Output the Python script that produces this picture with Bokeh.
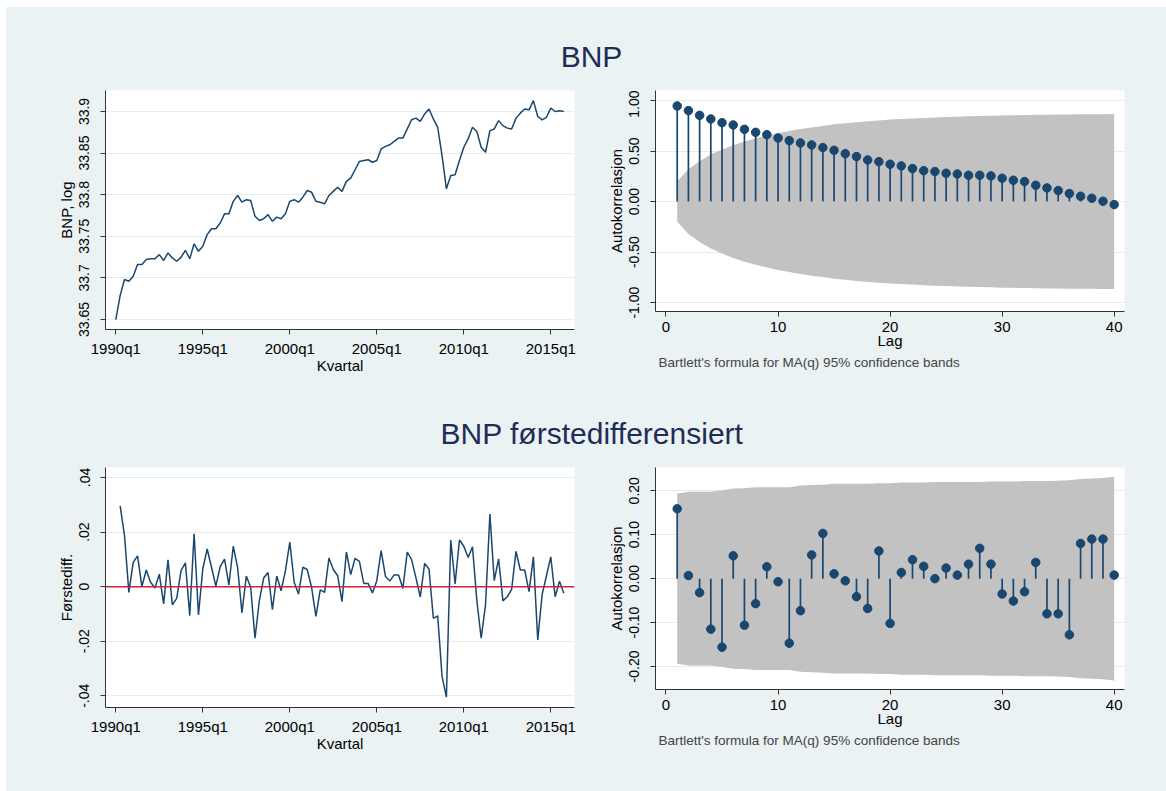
import math
from bokeh.plotting import figure
from bokeh.models import Range1d, FixedTicker, ColumnDataSource, Title, Span
from bokeh.layouts import column, row
from bokeh.embed import file_html
from bokeh.resources import INLINE
from bokeh.core.properties import value

# ---------------- data ----------------
x_tick_pos = [0, 20, 40, 60, 80, 100]
x_tick_labels = ["1990q1", "1995q1", "2000q1", "2005q1", "2010q1", "2015q1"]

bnp_log = [
    33.650, 33.679, 33.698, 33.696, 33.702, 33.716, 33.716, 33.722,
    33.723, 33.723, 33.728, 33.721, 33.730, 33.724, 33.720, 33.725,
    33.733, 33.723, 33.741, 33.732, 33.738, 33.752, 33.759, 33.759,
    33.766, 33.777, 33.777, 33.792, 33.799, 33.791, 33.794, 33.793,
    33.774, 33.769, 33.771, 33.776, 33.768, 33.773, 33.771, 33.777,
    33.792, 33.794, 33.791, 33.797, 33.805, 33.803, 33.792, 33.791,
    33.789, 33.799, 33.804, 33.809, 33.804, 33.816, 33.820, 33.830,
    33.840, 33.841, 33.842, 33.839, 33.841, 33.855, 33.858, 33.860,
    33.864, 33.868, 33.868, 33.879, 33.890, 33.892, 33.888, 33.897,
    33.903, 33.891, 33.881, 33.847, 33.807, 33.823, 33.824, 33.841,
    33.857, 33.867, 33.881, 33.876, 33.857, 33.851, 33.877, 33.879,
    33.889, 33.883, 33.880, 33.879, 33.892, 33.898, 33.903, 33.902,
    33.913, 33.894, 33.890, 33.893, 33.904, 33.900, 33.901, 33.900,
]

bnp_diff = [
    0.0296, 0.0187, -0.0021, 0.0089, 0.0113, 0.0000, 0.0061,
    0.0016, -0.0005, 0.0046, -0.0063, 0.0098, -0.0067, -0.0043, 0.0059,
    0.0087, -0.0106, 0.0194, -0.0104, 0.0065, 0.0138, 0.0071, 0.0002,
    0.0073, 0.0101, 0.0006, 0.0148, 0.0071, -0.0096, 0.0039, -0.0002,
    -0.0189, -0.0051, 0.0032, 0.0052, -0.0084, 0.0039, -0.0015, 0.0059,
    0.0163, 0.0016, -0.0027, 0.0071, 0.0063, -0.0002, -0.0109, -0.0012,
    -0.0021, 0.0105, 0.0063, 0.0040, -0.0055, 0.0127, 0.0044, 0.0104,
    0.0093, 0.0012, 0.0012, -0.0023, 0.0022, 0.0132, 0.0037, 0.0021,
    0.0043, 0.0043, -0.0006, 0.0127, 0.0099, 0.0032, -0.0038, 0.0085,
    0.0065, -0.0116, -0.0107, -0.0329, -0.0405, 0.0171, 0.0010, 0.0171,
    0.0148, 0.0107, 0.0146, -0.0051, -0.0189, -0.0066, 0.0266, 0.0022,
    0.0102, -0.0052, -0.0037, -0.0010, 0.0129, 0.0061, 0.0061, -0.0018,
    0.0109, -0.0195, -0.0030, 0.0040, 0.0109, -0.0037, 0.0020, -0.0024,
]

lags = list(range(1, 41))
lag_ticks = [0, 10, 20, 30, 40]

acf_bnp = [
    0.946, 0.900, 0.853, 0.817, 0.781, 0.758, 0.715, 0.685, 0.662, 0.629,
    0.603, 0.580, 0.560, 0.534, 0.507, 0.474, 0.445, 0.412, 0.395, 0.369,
    0.353, 0.326, 0.306, 0.297, 0.280, 0.273, 0.260, 0.260, 0.254, 0.231,
    0.211, 0.198, 0.161, 0.135, 0.109, 0.079, 0.053, 0.033, 0.003, -0.030,
]
band_bnp = [
    0.200, 0.320, 0.400, 0.465, 0.515, 0.558, 0.595, 0.625, 0.653, 0.677,
    0.698, 0.717, 0.733, 0.747, 0.764, 0.775, 0.786, 0.795, 0.803, 0.811,
    0.816, 0.822, 0.827, 0.832, 0.836, 0.840, 0.843, 0.846, 0.849, 0.852,
    0.854, 0.856, 0.858, 0.860, 0.861, 0.862, 0.863, 0.864, 0.865, 0.866,
]

acf_diff = [
    0.159, 0.007, -0.032, -0.115, -0.156, 0.052, -0.106, -0.057, 0.027, -0.007,
    -0.147, -0.073, 0.054, 0.103, 0.011, -0.005, -0.041, -0.068, 0.063, -0.102,
    0.014, 0.043, 0.028, 0.000, 0.024, 0.008, 0.033, 0.069, 0.033, -0.035,
    -0.051, -0.030, 0.037, -0.080, -0.080, -0.128, 0.080, 0.090, 0.090, 0.008,
]
band_diff = [
    0.194, 0.198, 0.198, 0.198, 0.201, 0.205, 0.206, 0.208, 0.208, 0.208,
    0.208, 0.212, 0.213, 0.214, 0.216, 0.216, 0.216, 0.216, 0.217, 0.217,
    0.219, 0.219, 0.219, 0.220, 0.220, 0.220, 0.220, 0.220, 0.221, 0.221,
    0.221, 0.222, 0.222, 0.222, 0.223, 0.224, 0.227, 0.228, 0.229, 0.232,
]

# ---------------- style ----------------
BG = "#EAF2F3"
NAVY = "#1A476F"
GRID = "#E4ECEE"
BAND = "#C2C2C2"
RED = "#C8243C"
TITLE_C = "#1F2D56"
FONT = "Liberation Sans"


def style(p, xlabel, ylabel, yticks, ylabels, xticks, xlabels):
    p.xaxis.ticker = FixedTicker(ticks=xticks)
    p.xaxis.major_label_overrides = {t: l for t, l in zip(xticks, xlabels)}
    p.yaxis.ticker = FixedTicker(ticks=yticks)
    p.yaxis.major_label_overrides = {t: l for t, l in zip(yticks, ylabels)}
    p.ygrid.ticker = FixedTicker(ticks=yticks)
    p.ygrid.grid_line_color = GRID
    p.ygrid.grid_line_width = 1
    p.xgrid.visible = False
    for ax in (p.xaxis, p.yaxis):
        ax.axis_line_color = "#333333"
        ax.major_tick_line_color = "#333333"
        ax.major_tick_out = 5
        ax.major_tick_in = 0
        ax.minor_tick_out = 0
        ax.minor_tick_in = 0
        ax.major_label_text_font = FONT
        ax.axis_label_text_font = FONT
        ax.axis_label_text_font_style = "normal"
        ax.axis_label_text_font_size = "15px"
        ax.axis_label_text_color = "black"
        ax.major_label_text_color = "black"
    p.xaxis.axis_label = xlabel
    p.yaxis.axis_label = ylabel
    p.xaxis.major_label_text_font_size = "15px"
    p.yaxis.major_label_text_font_size = "14px"
    p.yaxis.major_label_orientation = "vertical"
    p.yaxis.major_label_standoff = 11
    p.yaxis.axis_label_standoff = 2
    p.xaxis.major_label_standoff = 5
    p.xaxis.axis_label_standoff = -3


def panel(w, h, xr, yr, bl, br, bb):
    p = figure(width=w, height=h, x_range=Range1d(*xr), y_range=Range1d(*yr),
               output_backend="svg", toolbar_location=None, title=None,
               min_border_left=bl, min_border_right=br, min_border_top=0,
               min_border_bottom=bb, background_fill_color="white",
               border_fill_color=BG, outline_line_color=None)
    if "frame_align" in p.properties():
        p.frame_align = False
    return p


def title_fig(w, h, txt, tx, ty):
    p = figure(width=w, height=h, x_range=Range1d(0, w), y_range=Range1d(0, h),
               output_backend="svg", toolbar_location=None, title=None,
               min_border=0, background_fill_color=BG, border_fill_color=BG,
               outline_line_color=None)
    p.axis.visible = False
    p.grid.visible = False
    src = ColumnDataSource(dict(x=[tx], y=[ty], t=[txt]))
    p.text(x="x", y="y", text="t", source=src, text_align="center",
           text_baseline="middle", text_font=value(FONT),
           text_font_size="30px", text_color=TITLE_C)
    return p


note_txt = "Bartlett's formula for MA(q) 95% confidence bands"

LW, RW = 584, 576
TOP_H, ROW1_H, MID_H, ROW2_H = 83, 300, 77, 324

# ---- panel 1: BNP log ----
q_idx = list(range(len(bnp_log)))
p1 = panel(LW, ROW1_H, (-2.37, 105.45), (33.638, 33.9252), 99, 16, 61)
p1.line(q_idx, bnp_log, line_color=NAVY, line_width=1.5)
style(p1, "Kvartal", "BNP, log",
      [33.65, 33.7, 33.75, 33.8, 33.85, 33.9],
      ["33.65", "33.7", "33.75", "33.8", "33.85", "33.9"],
      x_tick_pos, x_tick_labels)

# ---- panel 2: ACF BNP ----
p2 = panel(RW, ROW1_H, (-0.937, 40.92), (-1.088, 1.099), 65, 42, 79)
p2.varea(x=lags, y1=[-b for b in band_bnp], y2=band_bnp, fill_color=BAND)
p2.segment(x0=lags, y0=[0] * len(lags), x1=lags, y1=acf_bnp,
           line_color=NAVY, line_width=1.7)
p2.scatter(lags, acf_bnp, size=8.5, fill_color=NAVY, line_color=NAVY)
style(p2, "Lag", "Autokorrelasjon", [-1, -0.5, 0, 0.5, 1],
      ["-1.00", "-0.50", "0.00", "0.50", "1.00"], lag_ticks,
      [str(t) for t in lag_ticks])
p2.add_layout(Title(text=note_txt, align="left", text_font=FONT,
                    text_font_size="13.5px", text_font_style="normal",
                    offset=3, standoff=2), "below")

# ---- panel 3: first difference ----
d_idx = list(range(1, len(bnp_diff) + 1))
p3 = panel(LW, ROW2_H, (-2.37, 105.45), (-0.04429, 0.04367), 99, 16, 84)
p3.add_layout(Span(location=0, dimension="width", line_color=RED, line_width=1.5))
p3.line(d_idx, bnp_diff, line_color=NAVY, line_width=1.5)
style(p3, "Kvartal", "Førstediff.", [-0.04, -0.02, 0, 0.02, 0.04],
      ["-.04", "-.02", "0", ".02", ".04"], x_tick_pos, x_tick_labels)

# ---- panel 4: ACF first difference ----
p4 = panel(RW, ROW2_H, (-0.937, 40.92), (-0.2524, 0.253), 65, 42, 102)
p4.varea(x=lags, y1=[-b for b in band_diff], y2=band_diff, fill_color=BAND)
p4.segment(x0=lags, y0=[0] * len(lags), x1=lags, y1=acf_diff,
           line_color=NAVY, line_width=1.7)
p4.scatter(lags, acf_diff, size=8.5, fill_color=NAVY, line_color=NAVY)
style(p4, "Lag", "Autokorrelasjon", [-0.2, -0.1, 0, 0.1, 0.2],
      ["-0.20", "-0.10", "0.00", "0.10", "0.20"], lag_ticks,
      [str(t) for t in lag_ticks])
p4.add_layout(Title(text=note_txt, align="left", text_font=FONT,
                    text_font_size="13.5px", text_font_style="normal",
                    offset=3, standoff=2), "below")

t1 = title_fig(LW + RW, TOP_H, "BNP", 585, 33.7)
t2 = title_fig(LW + RW, MID_H, "BNP førstedifferensiert", 585.5, 33.6)

bgstyle = {"background-color": BG}
layout = column(
    t1,
    row(column(p1, styles=bgstyle), column(p2, styles=bgstyle), styles=bgstyle),
    t2,
    row(column(p3, styles=bgstyle), column(p4, styles=bgstyle), styles=bgstyle),
    styles=bgstyle, margin=(7, 0, 0, 6),
)

open("out.html", "w").write(file_html(layout, INLINE))
